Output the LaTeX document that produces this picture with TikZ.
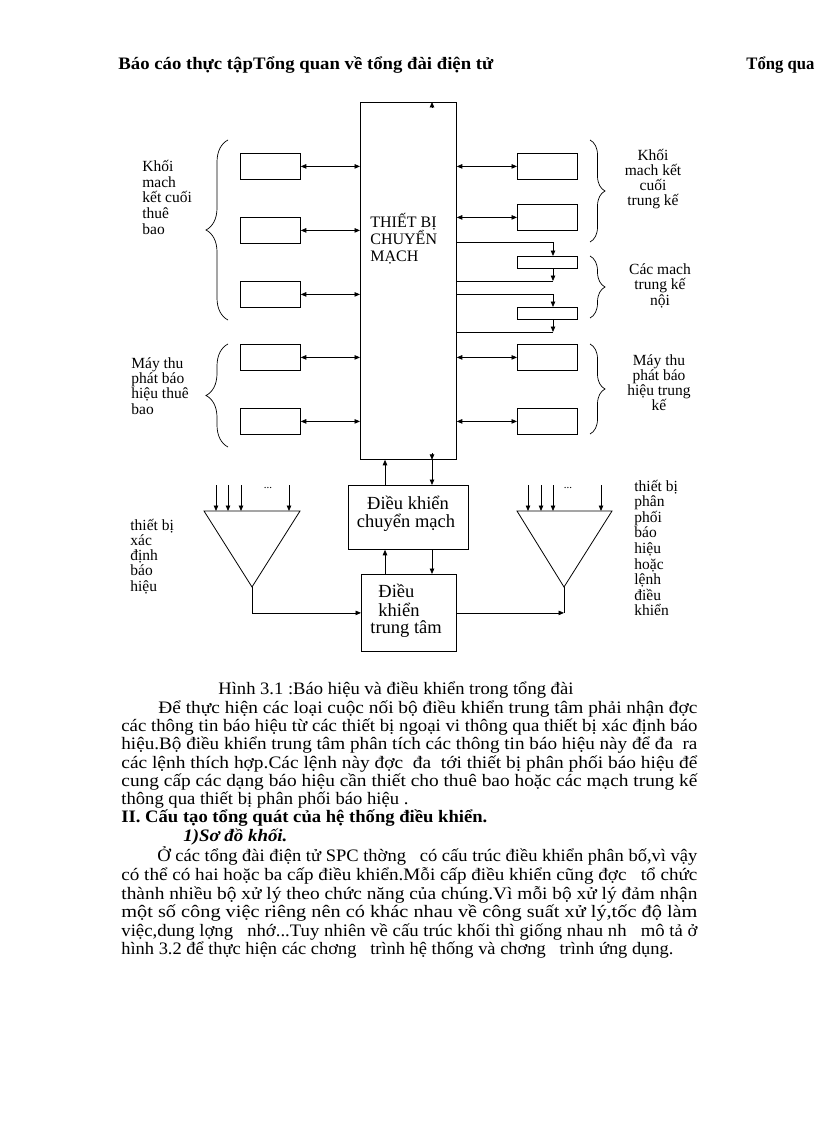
\documentclass[tikz,border=0pt]{standalone}
\usepackage{fontspec}
\usepackage{graphicx}
\setmainfont{Liberation Serif}
\usetikzlibrary{arrows.meta,decorations.pathreplacing}
\newlength\fitw
\newcommand\fitline[2]{\settowidth\fitw{#2}\pgfmathsetmacro\fitf{#1/\fitw}\scalebox{\fitf}[1]{#2}}
\begin{document}
\begin{tikzpicture}[x=1pt,y=-1pt,line width=0.8pt,
  >={Triangle[length=5.5pt,width=4.5pt]},
  sbox/.style={draw,inner sep=0,minimum width=60pt,minimum height=26pt,anchor=north west},
  tbox/.style={draw,inner sep=0,minimum width=60pt,minimum height=12pt,anchor=north west},
  lbl/.style={inner sep=0,font=\fontsize{15.5}{15.5}\selectfont},
  body/.style={inner sep=0,anchor=base west,font=\fontsize{17.5}{18}\selectfont},
  bodyb/.style={body,font=\fontsize{17.5}{18}\selectfont\bfseries},
  bigl/.style={inner sep=0,font=\fontsize{18.5}{19}\selectfont},
  brL/.style={decorate,decoration={brace,amplitude=22pt},line width=0.7pt},
  brR/.style={decorate,decoration={brace,amplitude=15pt},line width=0.7pt}]
\useasboundingbox (0,0) rectangle (816,1123);
\fill[white] (0,0) rectangle (816,1123);
\clip (0,0) rectangle (816,1123);

% header
\node[bodyb] (hdr) at (118,70) {\fitline{375pt}{Báo cáo thực tậpTổng quan về tổng đài điện tử}};
\node[bodyb] (hdr2) at (746,70) {\fitline{68pt}{Tổng qua}};

% switching equipment
\node[draw,inner sep=0,minimum width=96pt,minimum height=357pt,anchor=north west] (sw) at (360,102) {};
\foreach \t [count=\i] in {THIẾT BỊ,CHUYỂN,MẠCH}
  \node[inner sep=0,anchor=base west,font=\fontsize{16}{16.5}\selectfont] (swt\i) at (370,{228+16.5*(\i-1)}) {\t};

% left boxes
\node[sbox] (l1) at (240,153) {};
\node[sbox] (l2) at (240,217) {};
\node[sbox] (l3) at (240,281) {};
\node[sbox] (l4) at (240,344) {};
\node[sbox] (l5) at (240,408) {};
\foreach \n in {l1,l2,l3,l4,l5} \draw[<->] (\n.east) -- (\n.east -| sw.west);

% right boxes
\node[sbox] (r1) at (517,153) {};
\node[sbox] (r2) at (517,204) {};
\node[tbox] (r3) at (517,256) {};
\node[tbox] (r4) at (517,307) {};
\node[sbox] (r5) at (517,344) {};
\node[sbox] (r6) at (517,408) {};
\foreach \n in {r1,r2,r5,r6} \draw[<->] (sw.east |- \n.west) -- (\n.west);

% trunk connections
\coordinate (tx) at (553,0);
\coordinate (ya) at (0,242);
\coordinate (yb) at (0,281);
\coordinate (yc) at (0,294);
\coordinate (yd) at (0,332);
\draw[->] (sw.east |- ya) -| (r3.north -| tx);
\draw[->] (r3.south -| tx) -- (tx |- yb);
\draw (tx |- yb) -- (sw.east |- yb);
\draw[->] (sw.east |- yc) -| (r4.north -| tx);
\draw[->] (r4.south -| tx) -- (tx |- yd);
\draw (tx |- yd) -- (sw.east |- yd);

% braces
\draw[brL] (228,320) -- (228,140);
\draw[brL] (228,447) -- (228,344);
\draw[brR] (590,140) -- (590,242);
\draw[brR] (590,256) -- (590,318);
\draw[brR] (590,344) -- (590,434);

% left labels
\foreach \t [count=\i] in {Khối,mach,kết cuối,thuê,bao}
  \node[lbl,anchor=base west] (lk\i) at (142,{172+15.5*(\i-1)}) {\t};
\foreach \t [count=\i] in {Máy thu,phát báo,hiệu thuê,bao}
  \node[lbl,anchor=base west] (lm\i) at (131,{368+15.4*(\i-1)}) {\t};
% right labels
\foreach \t [count=\i] in {Khối,mach kết,cuối,trung kế}
  \node[lbl,anchor=base] (rk\i) at (653,{161+15*(\i-1)}) {\t};
\foreach \t [count=\i] in {Các mach,trung kế,nội}
  \node[lbl,anchor=base] (rc\i) at (660,{274+15.5*(\i-1)}) {\t};
\foreach \t [count=\i] in {Máy thu,phát báo,hiệu trung,kế}
  \node[lbl,anchor=base] (rm\i) at (659,{365+15.3*(\i-1)}) {\t};

% control boxes
\node[draw,inner sep=0,minimum width=120pt,minimum height=64pt,anchor=north west] (dkcm) at (348,485) {};
\node[bigl,anchor=base] (dkcm1) at (408,509) {Điều khiển};
\node[bigl,anchor=base] (dkcm2) at (406,527) {chuyển mạch};
\node[draw,inner sep=0,minimum width=95pt,minimum height=77pt,anchor=north west] (dktt) at (361,574) {};
\node[bigl,anchor=base west] (dktt1) at (378,597) {Điều};
\node[bigl,anchor=base west] (dktt2) at (378,616) {khiển};
\node[bigl,anchor=base west] (dktt3) at (370,633) {trung tâm};

\coordinate (xa) at (385,0);
\coordinate (xb) at (432,0);
\draw[->] (dkcm.north -| xa) -- (sw.south -| xa);
\draw[->] (sw.south -| xb) -- (dkcm.north -| xb);
\draw[->] (dktt.north -| xa) -- (dkcm.south -| xa);
\draw[->] (dkcm.south -| xb) -- (dktt.north -| xb);
\draw[->] (432,108) -- (sw.north -| xb);
\draw[->] (432,453) -- (sw.south -| xb);

% triangles
\coordinate (lapex) at (252,587);
\coordinate (rapex) at (564,587);
\draw (204,511) -- (300,511) -- (lapex) -- cycle;
\draw (517,511) -- (612,511) -- (rapex) -- cycle;
\foreach \x in {216,228,241,289} \draw[->] (\x,485) -- (\x,511);
\foreach \x in {528,541,553,601} \draw[->] (\x,485) -- (\x,511);
\node[inner sep=0,font=\fontsize{11}{12}\selectfont] (ldots) at (268,488) {...};
\node[inner sep=0,font=\fontsize{11}{12}\selectfont] (rdots) at (568,488) {...};
\draw[->] (lapex) |- (dktt.west);
\draw[->] (dktt.east) -- (rapex |- dktt.east);
\draw (rapex) -- (rapex |- dktt.east);

\foreach \t [count=\i] in {thiết bị,xác,định,báo,hiệu}
  \node[lbl,anchor=base west] (lt\i) at (130,{530+15.3*(\i-1)}) {\t};
\foreach \t [count=\i] in {thiết bị,phân,phối,báo,hiệu,hoặc,lệnh,điều,khiển}
  \node[lbl,anchor=base west] (rt\i) at (634,{491+15.6*(\i-1)}) {\t};

% caption and body text
\node[body] (cap) at (218,694) {\fitline{355pt}{Hình 3.1 :Báo hiệu và điều khiển trong tổng đài}};
\node[body] (p1) at (158,713) {\fitline{539pt}{Để thực hiện các loại cuộc nối bộ điều khiển trung tâm phải nhận đợc}};
\node[body] (p2) at (121,731) {\fitline{576pt}{các thông tin báo hiệu từ các thiết bị ngoại vi thông qua thiết bị xác định báo}};
\node[body] (p3) at (121,749) {\fitline{576pt}{hiệu.Bộ điều khiển trung tâm phân tích các thông tin báo hiệu này để đa\ \ ra}};
\node[body] (p4) at (121,768) {\fitline{576pt}{các lệnh thích hợp.Các lệnh này đợc\ \ đa\ \ tới thiết bị phân phối báo hiệu để}};
\node[body] (p5) at (121,786) {\fitline{576pt}{cung cấp các dạng báo hiệu cần thiết cho thuê bao hoặc các mạch trung kế}};
\node[body] (p6) at (121,804) {\fitline{287pt}{thông qua thiết bị phân phối báo hiệu .}};
\node[bodyb] (h2) at (121,822) {\fitline{366pt}{II. Cấu tạo tổng quát của hệ thống điều khiển.}};
\node[body,font=\fontsize{17.5}{18}\selectfont\bfseries\itshape] (h3) at (183,841) {\fitline{104pt}{1)Sơ đồ khối.}};
\node[body] (q1) at (157,861) {\fitline{540pt}{Ở các tổng đài điện tử SPC thờng\ \ \ có cấu trúc điều khiển phân bố,vì vậy}};
\node[body] (q2) at (121,880) {\fitline{576pt}{có thể có hai hoặc ba cấp điều khiển.Mỗi cấp điều khiển cũng đợc\ \ \ tổ chức}};
\node[body] (q3) at (121,899) {\fitline{576pt}{thành nhiều bộ xử lý theo chức năng của chúng.Vì mỗi bộ xử lý đảm nhận}};
\node[body] (q4) at (121,917) {\fitline{576pt}{một số công việc riêng nên có khác nhau về công suất xử lý,tốc độ làm}};
\node[body] (q5) at (121,936) {\fitline{576pt}{việc,dung lợng\ \ \ nhớ...Tuy nhiên về cấu trúc khối thì giống nhau nh\ \ \ mô tả ở}};
\node[body] (q6) at (121,954) {\fitline{552pt}{hình 3.2 để thực hiện các chơng\ \ \ trình hệ thống và chơng\ \ \ trình ứng dụng.}};
\end{tikzpicture}
\end{document}
